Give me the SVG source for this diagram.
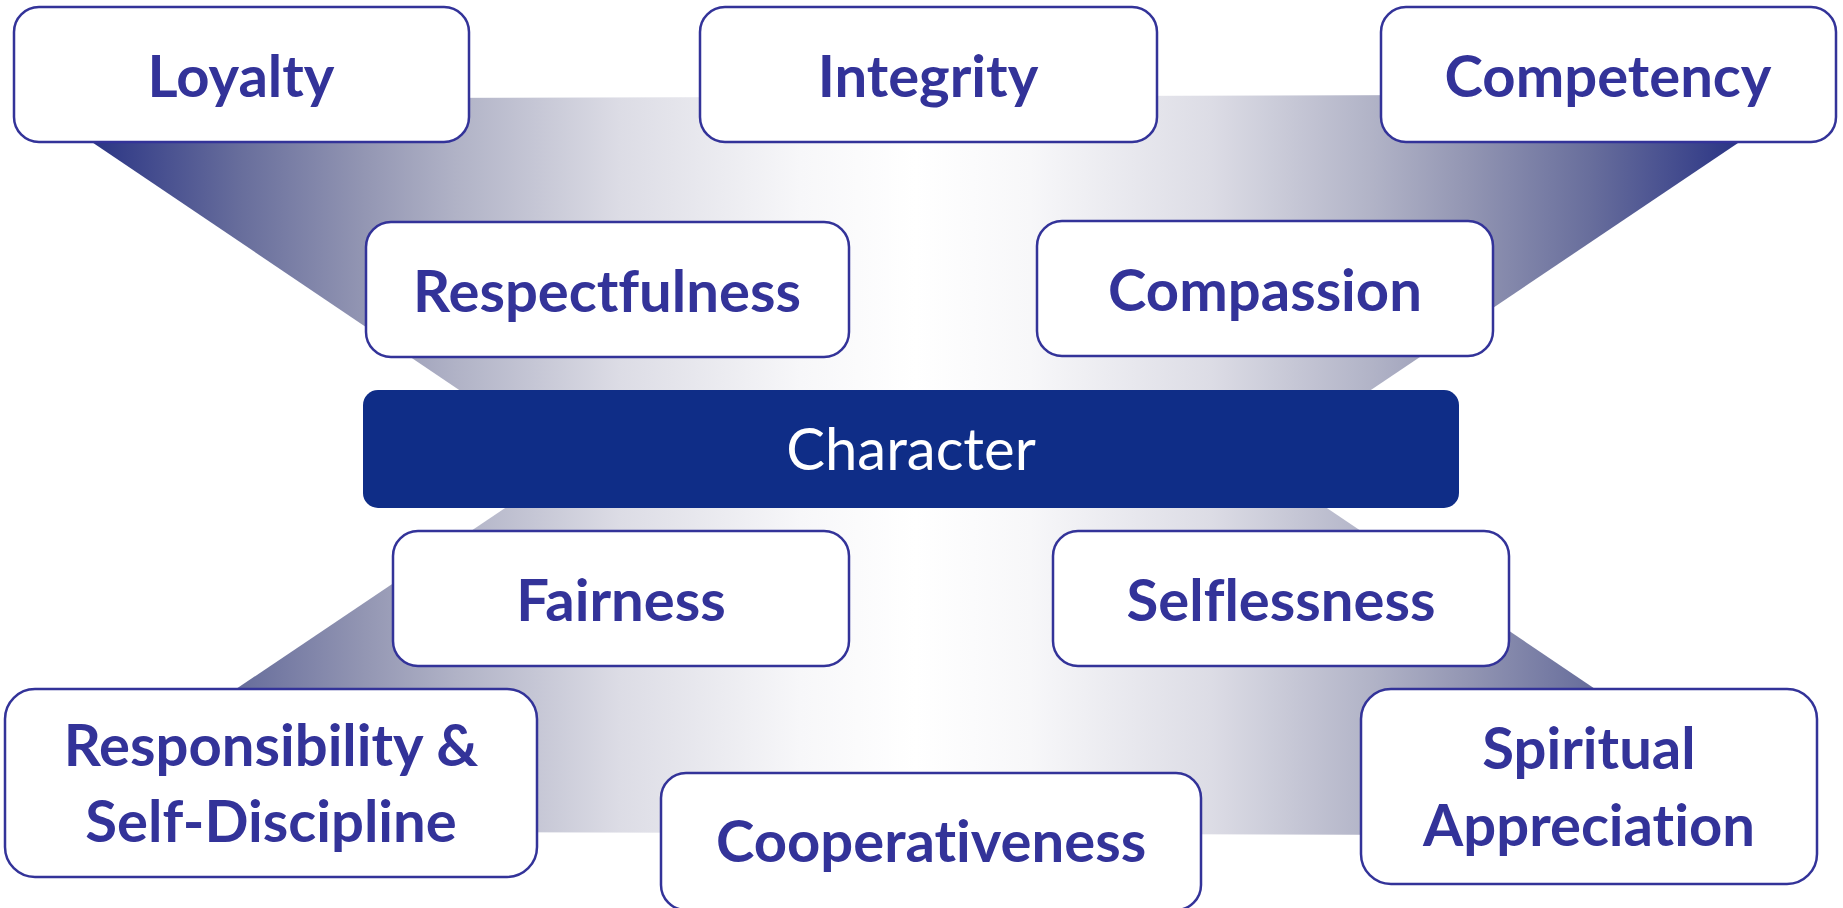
<svg xmlns="http://www.w3.org/2000/svg" width="1843" height="908" viewBox="0 0 1843 908">
  <defs>
    <linearGradient id="band" gradientUnits="userSpaceOnUse" x1="93" y1="0" x2="1738" y2="0">
      <stop offset="0" stop-color="#2b3585"/>
      <stop offset="0.09" stop-color="#686e9c"/>
      <stop offset="0.165" stop-color="#9396b3"/>
      <stop offset="0.22" stop-color="#b0b2c6"/>
      <stop offset="0.32" stop-color="#dcdce5"/>
      <stop offset="0.43" stop-color="#f7f7f9"/>
      <stop offset="0.5" stop-color="#ffffff"/>
      <stop offset="0.57" stop-color="#f7f7f9"/>
      <stop offset="0.68" stop-color="#dcdce5"/>
      <stop offset="0.78" stop-color="#b0b2c6"/>
      <stop offset="0.835" stop-color="#9396b3"/>
      <stop offset="0.91" stop-color="#686e9c"/>
      <stop offset="1" stop-color="#2b3585"/>
    </linearGradient>
    <style>
      .box { fill: #ffffff; stroke: #333399; stroke-width: 2.5; }
      .lbl { font-family: Lato, "Open Sans", "Liberation Sans", sans-serif; font-weight: 700; font-size: 58px; fill: #333399; text-anchor: middle; font-variant-ligatures: none; }
      .bar { fill: #0f2d87; }
      .barlbl { font-family: Lato, "Open Sans", "Liberation Sans", sans-serif; font-weight: 400; font-size: 58px; fill: #ffffff; text-anchor: middle; font-variant-ligatures: none; }
    </style>
  </defs>

  <g id="connectors">
    <polygon fill="url(#band)" points="28,99 1811,94 1356,400 474,400"/>
    <polygon fill="url(#band)" points="517,500 1315,500 1813,836 25,831"/>
  </g>

  <g id="character">
    <rect class="bar" x="363" y="390" width="1096" height="118" rx="15"/>
    <text class="barlbl" x="911" y="470">Character</text>
  </g>

  <g id="loyalty">
    <rect class="box" x="14" y="7" width="455" height="135" rx="25"/>
    <text class="lbl" x="241" y="97">Loyalty</text>
  </g>
  <g id="integrity">
    <rect class="box" x="700" y="7" width="457" height="135" rx="25"/>
    <text class="lbl" x="928" y="97">Integrity</text>
  </g>
  <g id="competency">
    <rect class="box" x="1381" y="7" width="455" height="135" rx="25"/>
    <text class="lbl" x="1608" y="97">Competency</text>
  </g>
  <g id="respectfulness">
    <rect class="box" x="366" y="222" width="483" height="135" rx="25"/>
    <text class="lbl" x="607" y="312">Respectfulness</text>
  </g>
  <g id="compassion">
    <rect class="box" x="1037" y="221" width="456" height="135" rx="25"/>
    <text class="lbl" x="1265" y="311">Compassion</text>
  </g>
  <g id="fairness">
    <rect class="box" x="393" y="531" width="456" height="135" rx="25"/>
    <text class="lbl" x="621" y="621">Fairness</text>
  </g>
  <g id="selflessness">
    <rect class="box" x="1053" y="531" width="456" height="135" rx="25"/>
    <text class="lbl" x="1281" y="621">Selflessness</text>
  </g>
  <g id="responsibility">
    <rect class="box" x="5" y="689" width="532" height="188" rx="30"/>
    <text class="lbl" x="271" y="766">Responsibility &amp;</text>
    <text class="lbl" x="271" y="842">Self-Discipline</text>
  </g>
  <g id="cooperativeness">
    <rect class="box" x="661" y="773" width="540" height="137" rx="25"/>
    <text class="lbl" x="931" y="862">Cooperativeness</text>
  </g>
  <g id="spiritual">
    <rect class="box" x="1361" y="689" width="456" height="195" rx="30"/>
    <text class="lbl" x="1589" y="769">Spiritual</text>
    <text class="lbl" x="1589" y="846">Appreciation</text>
  </g>
</svg>
